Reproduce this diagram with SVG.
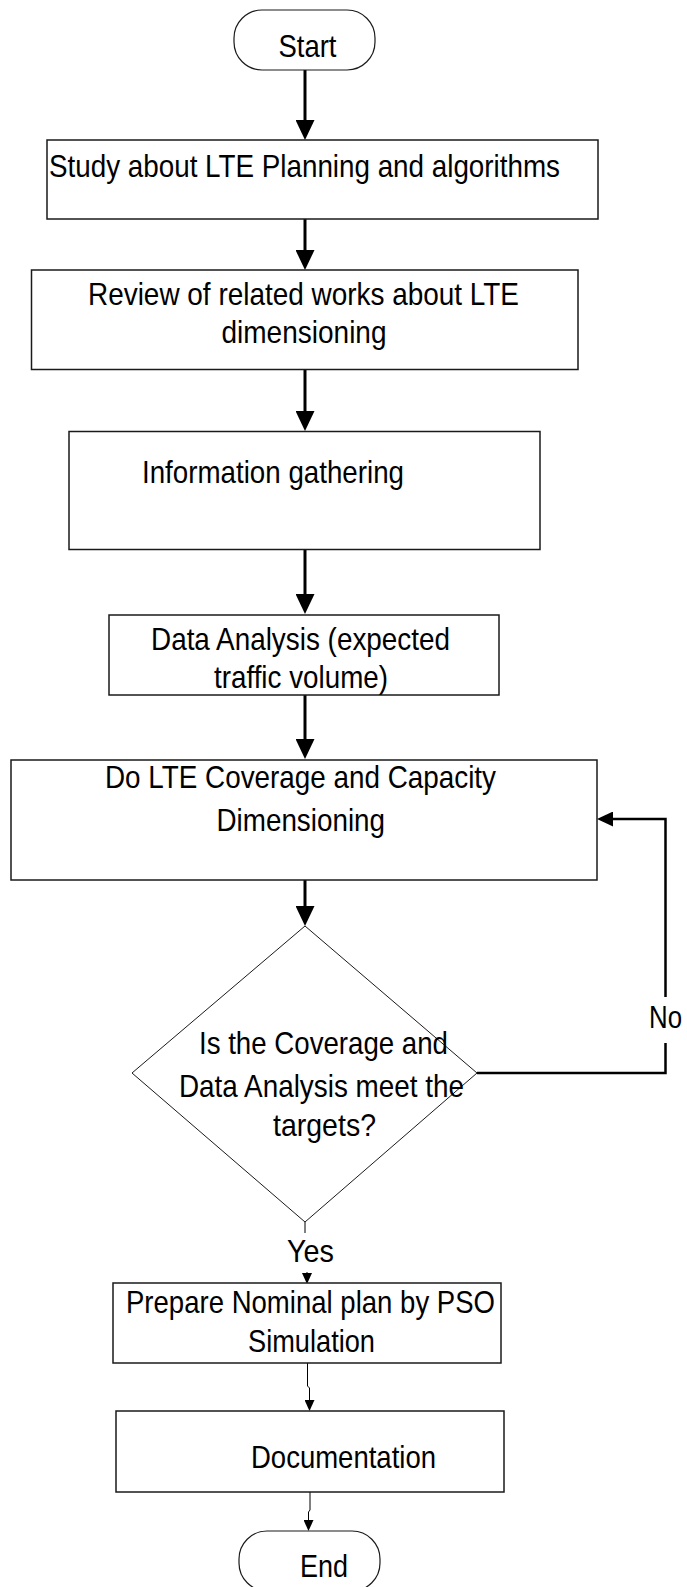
<svg xmlns="http://www.w3.org/2000/svg" width="687" height="1587" viewBox="0 0 687 1587">
  <style>
    .box { fill: #ffffff; stroke: #1a1a1a; stroke-width: 1.5; }
    .term { fill: #ffffff; stroke: #1a1a1a; stroke-width: 1.2; }
    .decision { fill: #ffffff; stroke: #1a1a1a; stroke-width: 1; }
    .label { font-family: "Liberation Sans", Arial, sans-serif; font-size: 32px; fill: #000000; }
    .thick { fill: none; stroke: #000000; stroke-width: 3; }
    .medium { fill: none; stroke: #000000; stroke-width: 2.5; }
    .thin { fill: none; stroke: #000000; stroke-width: 1; }
  </style>
  <defs>
    <marker id="headBig" viewBox="0 0 20 19" refX="10" refY="9.5" markerWidth="20" markerHeight="19" markerUnits="userSpaceOnUse" orient="auto">
      <path d="M0,0 L20,9.5 L0,19 z" fill="#000000"/>
    </marker>
    <marker id="headMid" viewBox="0 0 16 15" refX="8" refY="7.5" markerWidth="16" markerHeight="15" markerUnits="userSpaceOnUse" orient="auto">
      <path d="M0,0 L16,7.5 L0,15 z" fill="#000000"/>
    </marker>
    <marker id="headSmall" viewBox="0 0 11 10" refX="5" refY="5" markerWidth="11" markerHeight="10" markerUnits="userSpaceOnUse" orient="auto">
      <path d="M0,0 L11,5 L0,10 z" fill="#000000"/>
    </marker>
  </defs>

  <!-- connectors -->
  <g id="connectors">
    <path class="thick" d="M305,70 V130" marker-end="url(#headBig)"/>
    <path class="thick" d="M305,219 V260" marker-end="url(#headBig)"/>
    <path class="thick" d="M305,369 V421" marker-end="url(#headBig)"/>
    <path class="thick" d="M305,549 V604" marker-end="url(#headBig)"/>
    <path class="thick" d="M305,695 V749" marker-end="url(#headBig)"/>
    <path class="thick" d="M305,880 V916" marker-end="url(#headBig)"/>
    <!-- "No" loop back to the dimensioning step -->
    <path class="medium" d="M477,1073 H665.5 V1043"/>
    <path class="medium" d="M665.5,997 V819 H605" marker-end="url(#headMid)"/>
    <!-- "Yes" branch -->
    <path class="thin" d="M305,1222 V1233"/>
    <path class="thin" d="M307,1272 V1278" marker-end="url(#headSmall)"/>
    <path class="thin" d="M307.5,1363 V1386 L309.5,1388 V1405" marker-end="url(#headSmall)"/>
    <path class="thin" d="M310,1492 V1510 L308.5,1512 V1525" marker-end="url(#headSmall)"/>
    <text class="label" x="649" y="1028" font-size="30" textLength="33" lengthAdjust="spacingAndGlyphs">No</text>
    <text class="label" x="287" y="1262" textLength="47" lengthAdjust="spacingAndGlyphs">Yes</text>
  </g>

  <g id="start">
    <rect class="term" x="234" y="10" width="141" height="60" rx="28" ry="28"/>
    <text class="label" x="278.5" y="57" textLength="58" lengthAdjust="spacingAndGlyphs">Start</text>
  </g>

  <g id="study">
    <rect class="box" x="47" y="140" width="551" height="79"/>
    <text class="label" x="49" y="177" textLength="511" lengthAdjust="spacingAndGlyphs">Study about LTE Planning and algorithms</text>
  </g>

  <g id="review">
    <rect class="box" x="31.5" y="270" width="546.5" height="99.5"/>
    <text class="label" x="88" y="305" textLength="431" lengthAdjust="spacingAndGlyphs">Review of related works about LTE</text>
    <text class="label" x="221.5" y="343" textLength="165" lengthAdjust="spacingAndGlyphs">dimensioning</text>
  </g>

  <g id="gathering">
    <rect class="box" x="69" y="431.5" width="471" height="118"/>
    <text class="label" x="142" y="483" textLength="262" lengthAdjust="spacingAndGlyphs">Information gathering</text>
  </g>

  <g id="analysis">
    <rect class="box" x="109" y="615" width="390" height="80"/>
    <text class="label" x="151" y="650" textLength="299" lengthAdjust="spacingAndGlyphs">Data Analysis (expected</text>
    <text class="label" x="214" y="688" textLength="174" lengthAdjust="spacingAndGlyphs">traffic volume)</text>
  </g>

  <g id="dimensioning">
    <rect class="box" x="11" y="760" width="586" height="120"/>
    <text class="label" x="105" y="788" textLength="391" lengthAdjust="spacingAndGlyphs">Do LTE Coverage and Capacity</text>
    <text class="label" x="216.5" y="831" textLength="168.5" lengthAdjust="spacingAndGlyphs">Dimensioning</text>
  </g>

  <g id="decision">
    <polygon class="decision" points="305,926 477,1073 305,1222 132,1073"/>
    <text class="label" x="199" y="1054" textLength="249" lengthAdjust="spacingAndGlyphs">Is the Coverage and</text>
    <text class="label" x="179" y="1097" textLength="285" lengthAdjust="spacingAndGlyphs">Data Analysis meet the</text>
    <text class="label" x="273" y="1136" textLength="103" lengthAdjust="spacingAndGlyphs">targets?</text>
  </g>

  <g id="nominal-plan">
    <rect class="box" x="113" y="1283" width="388" height="80"/>
    <text class="label" x="126" y="1313" textLength="369" lengthAdjust="spacingAndGlyphs">Prepare Nominal plan by PSO</text>
    <text class="label" x="248" y="1352" textLength="127" lengthAdjust="spacingAndGlyphs">Simulation</text>
  </g>

  <g id="documentation">
    <rect class="box" x="116" y="1411" width="388" height="81"/>
    <text class="label" x="251" y="1468" textLength="185" lengthAdjust="spacingAndGlyphs">Documentation</text>
  </g>

  <g id="end">
    <rect class="term" x="239" y="1531" width="141" height="60" rx="28" ry="28"/>
    <text class="label" x="300" y="1577" textLength="48" lengthAdjust="spacingAndGlyphs">End</text>
  </g>
</svg>
